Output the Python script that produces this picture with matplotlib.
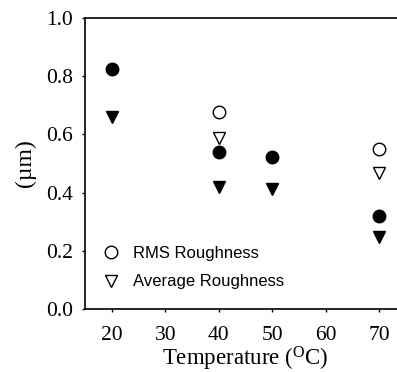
import matplotlib
matplotlib.use("Agg")
import matplotlib.pyplot as plt

# data
temp_rms = [40, 70]
rms_open = [0.678, 0.55]
temp_avg = [40, 70]
avg_open = [0.589, 0.466]

temp_filled = [20, 40, 50, 70]
rms_filled = [0.826, 0.541, 0.521, 0.32]
avg_filled = [0.661, 0.42, 0.412, 0.248]

x_ticks = [20, 30, 40, 50, 60, 70]
y_ticks = [0.0, 0.2, 0.4, 0.6, 0.8, 1.0]

fig = plt.figure(figsize=(3.97, 3.72), dpi=100)
ax = fig.add_axes([85 / 397, 63 / 372, 321 / 397, 291 / 372])

ax.plot(temp_rms, rms_open, "o", mfc="white", mec="black", mew=1.0, ms=9,
        label="RMS Roughness")
ax.plot(temp_avg, avg_open, "v", mfc="white", mec="black", mew=1.0, ms=9,
        label="Average Roughness")
ax.plot(temp_filled, rms_filled, "o", color="black", ms=9)
ax.plot(temp_filled, avg_filled, "v", color="black", ms=9)

ax.set_xlim(15, 75)
ax.set_ylim(0, 1.0)
ax.set_xticks(x_ticks)
ax.set_yticks(y_ticks)
ax.set_yticklabels([f"{v:.1f}" for v in y_ticks])
ax.tick_params(direction="out", length=2.5, width=1, labelsize=15.5)
ax.tick_params(axis="x", pad=9.5)
ax.tick_params(axis="y", pad=6)
for lab in ax.get_xticklabels() + ax.get_yticklabels():
    lab.set_family("Liberation Serif")
for s in ax.spines.values():
    s.set_linewidth(1.2)

ax.set_xlabel("Temperature ($\\mathregular{^{O}}$C)", family="Liberation Serif",
              fontsize=16.5, labelpad=0)
ax.set_ylabel("(\u00b5m)", family="Liberation Serif", fontsize=17, labelpad=7)

ax.legend(loc="lower left", bbox_to_anchor=(-0.019, 0.016), frameon=False,
          prop={"family": "Liberation Sans", "size": 12},
          handletextpad=0.35, labelspacing=0.79, borderaxespad=0.5)

fig.savefig("out.png", dpi=100)
